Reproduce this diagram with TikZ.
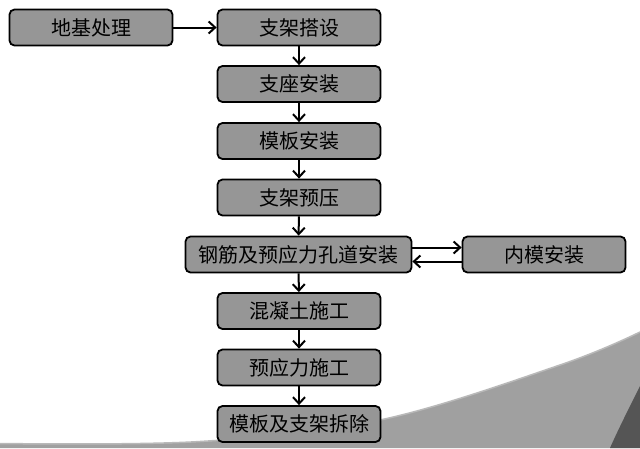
\documentclass[tikz,border=0pt]{standalone}
\usepackage{fontspec}
\newfontfamily\cjk{Noto Sans CJK SC}
\usetikzlibrary{arrows.meta}
\definecolor{boxgray}{RGB}{150,150,150}
\definecolor{swoosh}{RGB}{160,160,160}
\definecolor{swooshedge}{RGB}{185,185,185}
\definecolor{swooshdark}{RGB}{85,85,85}
\begin{document}
\begin{tikzpicture}[x=1pt,y=-1pt,
  stepbox/.style={draw=black,line width=1.8pt,fill=boxgray,rounded corners=5pt,
    minimum width=163pt,minimum height=36pt,inner sep=0pt,
    font=\cjk\fontsize{20}{20}\selectfont,text=black},
  conn/.style={line width=2pt,-{Straight Barb[length=6.5pt,width=12pt,line width=2pt]}}]
\useasboundingbox (0,0) rectangle (640,448);
\fill[white] (0,0) rectangle (640,448);
% swoosh
\fill[swoosh] plot[smooth,tension=0.6] coordinates {(0,443.5) (200,441.5) (380,420) (560,365) (640,332)} -- (640,448) -- (0,448) -- cycle;
\draw[swooshedge,line width=1.5pt] plot[smooth,tension=0.6] coordinates {(0,443.5) (200,441.5) (380,420) (560,365) (640,332)};
\fill[swooshdark] (640,386) .. controls (628,410) and (618,430) .. (610,448) -- (640,448) -- cycle;
% nodes
\node[stepbox] (a) at (91,27.5) {地基处理};
\node[stepbox] (b) at (299,27.5) {支架搭设};
\node[stepbox] (c) at (299,84) {支座安装};
\node[stepbox] (d) at (299,141) {模板安装};
\node[stepbox] (e) at (299,197.5) {支架预压};
\node[stepbox,minimum width=226pt] (f) at (298.5,254.5) {钢筋及预应力孔道安装};
\node[stepbox] (g) at (544,254.5) {内模安装};
\node[stepbox] (h) at (299,311) {混凝土施工};
\node[stepbox] (i) at (299,367.5) {预应力施工};
\node[stepbox] (j) at (299,424) {模板及支架拆除};
% connectors
\draw[conn] (a) -- (b);
\draw[conn] (b) -- (c);
\draw[conn] (c) -- (d);
\draw[conn] (d) -- (e);
\draw[conn] (e) -- (f);
\draw[conn] (f) -- (h);
\draw[conn] (h) -- (i);
\draw[conn] (i) -- (j);
\draw[conn] ([yshift=7pt]f.east) -- ([yshift=7pt]g.west);
\draw[conn] ([yshift=-7pt]g.west) -- ([yshift=-7pt]f.east);
\end{tikzpicture}
\end{document}
